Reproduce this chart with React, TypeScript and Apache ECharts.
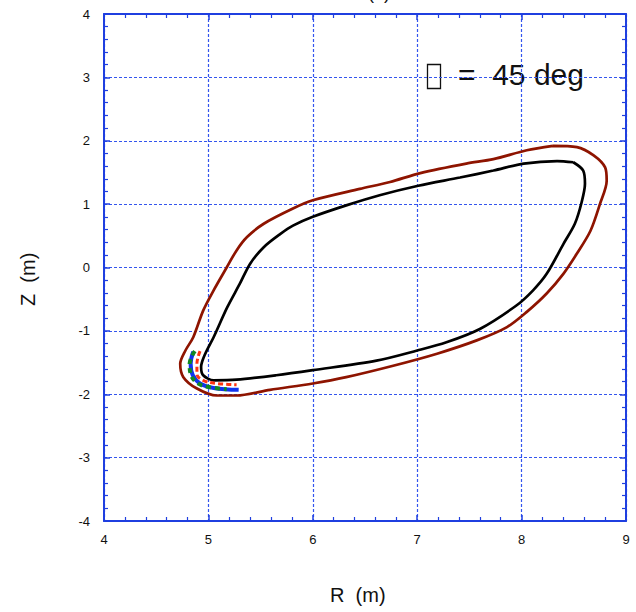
import React, { useEffect, useRef } from "react";
import * as echarts from "echarts";

const xTicks = [4, 5, 6, 7, 8, 9];
const yTicks = [-4, -3, -2, -1, 0, 1, 2, 3, 4];

const innerR = [8.495, 8.59, 8.607, 8.575, 8.51, 8.4, 8.24, 8.11, 7.95, 7.6, 7.28, 7.0, 6.61, 6.0, 5.65, 5.27, 5.05, 4.95, 4.93, 4.97, 5.05, 5.18, 5.3, 5.4, 5.53, 5.69, 5.81, 6.0, 6.32, 6.64, 7.01, 7.41, 7.73, 8.02, 8.34, 8.495];
const innerZ = [1.661, 1.53, 1.32, 1.03, 0.69, 0.37, -0.1, -0.36, -0.6, -0.97, -1.18, -1.31, -1.47, -1.62, -1.7, -1.77, -1.78, -1.7, -1.57, -1.36, -1.1, -0.63, -0.26, 0.06, 0.32, 0.53, 0.66, 0.8, 0.98, 1.14, 1.29, 1.42, 1.53, 1.64, 1.68, 1.661];

const outerR = [8.3, 8.53, 8.69, 8.8, 8.815, 8.75, 8.66, 8.53, 8.4, 8.24, 8.05, 7.86, 7.57, 7.19, 6.77, 6.32, 6.0, 5.59, 5.27, 5.08, 4.89, 4.76, 4.73, 4.78, 4.855, 4.95, 5.05, 5.175, 5.27, 5.37, 5.53, 5.81, 6.0, 6.45, 6.74, 7.03, 7.47, 7.73, 8.05, 8.3];
const outerZ = [1.92, 1.9, 1.77, 1.58, 1.37, 1.0, 0.58, 0.22, -0.1, -0.41, -0.7, -0.94, -1.15, -1.36, -1.55, -1.73, -1.83, -1.93, -2.02, -2.02, -1.91, -1.73, -1.52, -1.31, -1.1, -0.68, -0.36, 0.0, 0.27, 0.48, 0.69, 0.93, 1.06, 1.24, 1.35, 1.49, 1.64, 1.71, 1.85, 1.92];

const blueR = [4.855, 4.83, 4.85, 4.92, 5.05, 5.29];
const blueZ = [-1.33, -1.52, -1.7, -1.83, -1.9, -1.93];
const greenR = [4.87, 4.82, 4.83, 4.9, 5.015, 5.175];
const greenZ = [-1.32, -1.52, -1.68, -1.83, -1.89, -1.92];
const redR = [4.92, 4.89, 4.89, 4.95, 5.08, 5.27];
const redZ = [-1.32, -1.52, -1.68, -1.78, -1.83, -1.85];

const zip = (a: number[], b: number[]) => a.map((v, i) => [v, b[i]]);

const AXIS_BLUE = "#1f3fe0";
const GRID_BLUE = "#3355ee";
const FONT = "Liberation Sans";

export default function App() {
  const ref = useRef<HTMLDivElement>(null);
  useEffect(() => {
    if (!ref.current) return;
    const chart = echarts.init(ref.current, undefined, { renderer: "svg" });
    const baseAxis = {
      type: "value" as const,
      interval: 1,
      axisLine: { show: true, onZero: false, lineStyle: { color: AXIS_BLUE, width: 2 } },
      axisTick: { show: true, inside: true, length: 6, lineStyle: { color: AXIS_BLUE, width: 1.5 } },
      minorTick: { show: true, splitNumber: 5, length: 4, lineStyle: { color: AXIS_BLUE, width: 1.2 } },
    };
    chart.setOption({
      animation: false,
      backgroundColor: "#ffffff",
      grid: { left: 104, top: 14, width: 522, height: 507, containLabel: false },
      xAxis: [
        {
          ...baseAxis,
          min: xTicks[0],
          max: xTicks[xTicks.length - 1],
          position: "bottom",
          axisLabel: { color: "#111", fontSize: 13, fontFamily: FONT, margin: 12 },
          splitLine: { show: true, lineStyle: { color: GRID_BLUE, type: [3, 2], width: 1.2 } },
        },
        {
          ...baseAxis,
          min: xTicks[0],
          max: xTicks[xTicks.length - 1],
          position: "top",
          axisLabel: { show: false },
          splitLine: { show: false },
        },
      ],
      yAxis: [
        {
          ...baseAxis,
          min: yTicks[0],
          max: yTicks[yTicks.length - 1],
          position: "left",
          axisLabel: { color: "#111", fontSize: 13, fontFamily: FONT, margin: 14 },
          splitLine: { show: true, lineStyle: { color: GRID_BLUE, type: [3, 2], width: 1.2 } },
        },
        {
          ...baseAxis,
          min: yTicks[0],
          max: yTicks[yTicks.length - 1],
          position: "right",
          axisLabel: { show: false },
          splitLine: { show: false },
        },
      ],
      graphic: [
        { type: "text", left: 368, top: -16, style: { text: "(a)", fontSize: 18, fontFamily: FONT, fill: "#111" } },
        { type: "rect", shape: { x: 427.5, y: 64.5, width: 13, height: 24 }, style: { fill: "none", stroke: "#111", lineWidth: 1.3 } },
        { type: "text", x: 458, y: 59, style: { text: "=  45 deg", fontSize: 30, fontFamily: FONT, fill: "#111" } },
        { type: "text", x: 330, y: 585, style: { text: "R  (m)", fontSize: 20, fontFamily: FONT, fill: "#111" } },
        { type: "text", x: 18, y: 306, rotation: Math.PI / 2, style: { text: "Z  (m)", fontSize: 20, fontFamily: FONT, fill: "#111" } },
      ],
      series: [
        { type: "line", data: zip(outerR, outerZ), showSymbol: false, smooth: 0.3, lineStyle: { color: "#8e1400", width: 2.7 } },
        { type: "line", data: zip(innerR, innerZ), showSymbol: false, smooth: 0.3, lineStyle: { color: "#000000", width: 2.7 } },
        { type: "line", data: zip(blueR, blueZ), showSymbol: false, smooth: 0.4, lineStyle: { color: "#1133ee", width: 4 } },
        { type: "line", data: zip(greenR, greenZ), showSymbol: false, smooth: 0.4, lineStyle: { color: "#118822", width: 4, type: [5, 4] } },
        { type: "line", data: zip(redR, redZ), showSymbol: false, smooth: 0.4, lineStyle: { color: "#ff3311", width: 3, type: [5, 3] } },
      ],
    });
    return () => chart.dispose();
  }, []);
  return <div ref={ref} style={{ position: "fixed", left: 0, top: 0, width: 636, height: 612 }} />;
}
